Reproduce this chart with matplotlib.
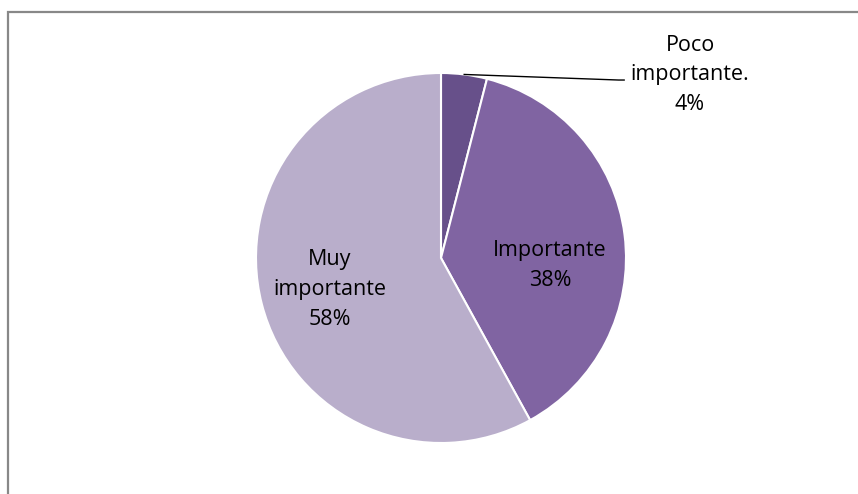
import matplotlib

matplotlib.use("Agg")

import matplotlib.pyplot as plt
import numpy as np
from matplotlib.patches import Rectangle

# Data
labels = ["Poco\nimportante.", "Importante", "Muy\nimportante"]
shares = [4, 38, 58]
colors = ["#67508A", "#8064A2", "#B9AECB"]

W, H = 858, 494
CX, CY, R = 441, 258, 185  # pie centre and radius in pixels

plt.rcParams["font.family"] = ["Open Sans", "DejaVu Sans"]

fig = plt.figure(figsize=(W / 100, H / 100), dpi=100)
fig.patch.set_facecolor("white")

# outer chart frame (cropped on the right and bottom in the reference)
fig.patches.append(Rectangle((8 / W, -0.1), 1.2, 1 - 12 / H + 0.1,
                             transform=fig.transFigure, fill=False,
                             edgecolor="#888888", linewidth=1.6))

ax = fig.add_axes([0, 0, 1, 1])
wedges, _ = ax.pie(shares, colors=colors, startangle=90, counterclock=False,
                   radius=1, wedgeprops={"edgecolor": "white", "linewidth": 1.5})
ax.set_xlim(-CX / R, (W - CX) / R)
ax.set_ylim(-(H - CY) / R, CY / R)
ax.set_aspect("equal")
ax.axis("off")

font = dict(fontsize=15.5, color="#000000", ha="center", va="center", linespacing=1.55)

# inside labels
for i, (dx, dy) in [(1, (0.59, -0.04)), (2, (-0.6, -0.17))]:
    ax.text(dx, dy, f"{labels[i]}\n{shares[i]}%", **font)

# outside label with leader line for the small slice
w = wedges[0]
mid = np.deg2rad((w.theta1 + w.theta2) / 2)
start = (np.cos(mid), np.sin(mid))
ax.plot([start[0], 0.96, 0.99], [start[1], 0.962, 0.962], color="black", lw=1.0)
ax.text(1.346, 0.99, f"{labels[0]}\n{shares[0]}%", **font)

fig.savefig("out.png", dpi=100)
